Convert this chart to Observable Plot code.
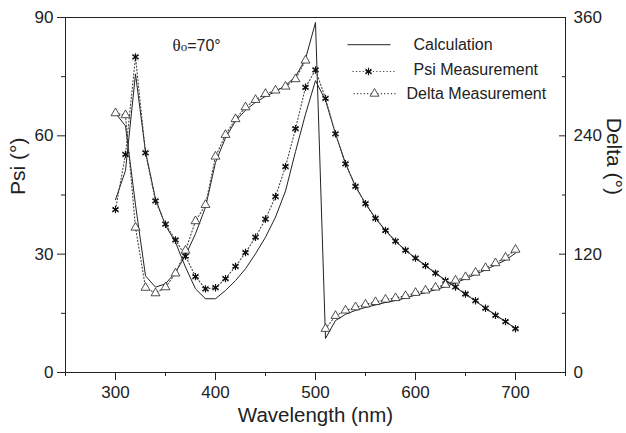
<!DOCTYPE html>
<html>
<head>
<meta charset="utf-8">
<script src="https://cdn.jsdelivr.net/npm/d3@7"></script>
<script src="https://cdn.jsdelivr.net/npm/@observablehq/plot@0.6"></script>
<style>
  html, body { margin: 0; padding: 0; background: #fff; }
  #chart { width: 626px; height: 433px; }
</style>
</head>
<body>
<div id="chart"></div>
<script>
// Wavelength (nm)
const wavelengths = [300,310,320,330,340,350,360,370,380,390,400,410,420,430,440,450,460,470,480,490,500,
                     510,520,530,540,550,560,570,580,590,600,610,620,630,640,650,660,670,680,690,700];
// Psi measurement (deg)
const psiMeasured = [41.3,55.3,80.0,55.7,43.5,37.6,33.6,29.5,24.3,21.2,21.5,23.8,26.9,30.4,34.3,38.9,44.6,52.2,61.8,72.3,76.7,
                     69.5,60.5,52.9,47.2,42.8,39.1,36.0,33.3,31.0,29.0,27.1,25.2,23.3,21.7,19.9,18.2,16.3,14.5,12.9,11.1];
// Delta measurement (deg)
const deltaMeasured = [263,261,147,86,80.4,86.5,100.5,123.7,153.5,170,219,241,257,269,276.5,282.6,286,290,297.5,316.4,null,
                       44.3,57.5,62.9,66.2,69,71.5,74,75.5,77.6,80.8,83.2,86.2,89,93.3,96.8,101.3,106,110.9,116.6,124.6];
// Calculated Psi (deg)
const psiCalc = [43.8,51.2,75.7,56,44,37.3,33,26.7,21.2,18.7,18.7,20.8,23.3,26.3,30.1,34.3,39.4,46,56,65.5,74,
                 69,60.5,53,47.2,42.8,39.1,36,33.3,31,29,27.1,25.2,23.4,21.6,19.9,18.1,16.3,14.6,12.9,11.2];
// Calculated Delta (deg)
const deltaCalc = [263,250,170,98,86.5,90,101.7,118.7,140.7,167.6,213,238,255,266,274,280,285,291,300,318,355,
                   34.5,52.7,59,63,66,68.5,71,73,75.5,78.5,81,84,87,91,95,99.5,104,109,114,121];

// Axis ticks
const xTicks = [300,400,500,600,700];
const xMinorTicks = [250,350,450,550,650,750];
const psiTicks = [0,30,60,90];
const psiMinorTicks = [15,45,75];
const deltaTicks = [0,120,240,360];
const deltaMinorTicks = [60,180,300];

// Legend
const legendLabels = ["Calculation","Psi Measurement","Delta Measurement"];

const k = 90 / 360; // delta -> psi axis
const rows = wavelengths.map((w, i) => ({
  w, psiM: psiMeasured[i], dM: deltaMeasured[i] == null ? NaN : deltaMeasured[i] * k,
  psiC: psiCalc[i], dC: deltaCalc[i] * k
}));
const dRows = rows.filter(d => !isNaN(d.dM));

const ink = "#222";
const dotInk = "#444";
const dash = "1.2,2.2";
const font = "'Liberation Sans', Arial, Helvetica, sans-serif";

// legend layout in data coordinates
const legend = [
  {label: legendLabels[0], x1: 532, x2: 575, y: 83.1, tx: 598, ty: 83.0},
  {label: legendLabels[1], x1: 537, x2: 580, y: 76.3, tx: 598, ty: 76.8, mx: 553},
  {label: legendLabels[2], x1: 538, x2: 580, y: 70.7, tx: 591, ty: 70.7, mx: 559}
];

const starMarks = (data, x, y) => [
  Plot.dot(data, {x, y, symbol: "asterisk", r: 3.5, stroke: "#111", strokeWidth: 1.2}),
  Plot.dot(data, {x, y, symbol: "times", r: 2.6, stroke: "#111", strokeWidth: 1}),
  Plot.dot(data, {x, y, r: 1.5, fill: "#111"})
];
const triMarks = (data, x, y) => [
  Plot.dot(data, {x, y, symbol: "triangle", r: 3.3, fill: "white", stroke: ink, strokeWidth: 0.8})
];

const chart = Plot.plot({
  width: 626, height: 433,
  marginLeft: 65, marginRight: 61, marginTop: 17, marginBottom: 61,
  style: {fontFamily: font, fontSize: "17px", color: ink, background: "white"},
  x: {domain: [250, 750]},
  y: {domain: [0, 90]},
  marks: [
    Plot.frame({stroke: ink, strokeWidth: 1}),
    // bottom axis
    Plot.axisX({ticks: xTicks, tickSize: 8, tickPadding: 5, label: null, fontSize: 17, stroke: ink}),
    Plot.axisX({ticks: xMinorTicks, tickSize: 4, tickFormat: () => "", label: null, stroke: ink}),
    // left axis
    Plot.axisY({ticks: psiTicks, tickSize: 8, tickPadding: 4, label: null, fontSize: 17, stroke: ink}),
    Plot.axisY({ticks: psiMinorTicks, tickSize: 4, tickFormat: () => "", label: null, stroke: ink}),
    // right axis (delta)
    Plot.axisY({anchor: "right", ticks: deltaTicks.map(d => d * k), tickSize: 0, tickPadding: 8,
                tickFormat: d => String(Math.round(d / k)), label: null, fontSize: 17}),
    Plot.axisY({anchor: "right", ticks: deltaTicks.map(d => d * k), tickSize: -7, tickFormat: () => "", label: null, stroke: ink}),
    Plot.axisY({anchor: "right", ticks: deltaMinorTicks.map(d => d * k), tickSize: -4, tickFormat: () => "", label: null, stroke: ink}),
    // axis titles
    Plot.text(["Psi (°)"], {frameAnchor: "left", dx: -47, rotate: -90, fontSize: 21, fill: ink}),
    Plot.text(["Delta (°)"], {frameAnchor: "right", dx: 48, rotate: 90, fontSize: 21, fill: ink}),
    Plot.text(["Wavelength (nm)"], {frameAnchor: "bottom", dy: 49, fontSize: 20.5, fill: ink}),
    // calculation curves
    Plot.line(rows, {x: "w", y: "psiC", stroke: ink, strokeWidth: 1}),
    Plot.line(rows, {x: "w", y: "dC", stroke: ink, strokeWidth: 1}),
    // measurement curves
    Plot.line(rows, {x: "w", y: "psiM", stroke: dotInk, strokeWidth: 1.1, strokeDasharray: dash}),
    Plot.line(rows, {x: "w", y: "dM", stroke: dotInk, strokeWidth: 1.1, strokeDasharray: dash}),
    ...starMarks(rows, "w", "psiM"),
    ...triMarks(dRows, "w", "dM"),
    // annotation
    Plot.text(["θo=70°"], {x: 357, y: 82.9, textAnchor: "start", fontSize: 16, fill: ink, className: "theta"}),
    // legend
    Plot.link([legend[0]], {x1: "x1", x2: "x2", y1: "y", y2: "y", stroke: ink, strokeWidth: 1}),
    Plot.link(legend.slice(1), {x1: "x1", x2: "x2", y1: "y", y2: "y", stroke: dotInk, strokeWidth: 1.1, strokeDasharray: dash}),
    ...starMarks([legend[1]], "mx", "y"),
    ...triMarks([legend[2]], "mx", "y"),
    Plot.text(legend, {x: "tx", y: "ty", text: "label", textAnchor: "start", fontSize: 16, fill: ink})
  ]
});
document.getElementById("chart").appendChild(chart);

// style the theta annotation: serif theta, small "o"
d3.select(chart).selectAll("g.theta text").each(function() {
  const t = d3.select(this);
  t.text(null);
  t.append("tspan").attr("font-family", "'Liberation Serif', 'DejaVu Serif', serif").attr("font-size", 17).text("θ");
  t.append("tspan").attr("font-family", "'Liberation Serif', 'DejaVu Serif', serif").attr("font-size", 13).text("o");
  t.append("tspan").text("=70°");
});
</script>
</body>
</html>
